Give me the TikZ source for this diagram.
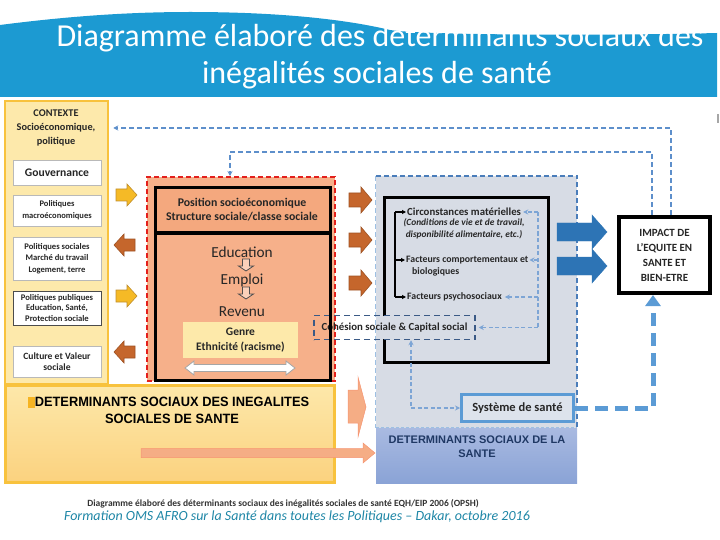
\documentclass[tikz,border=0pt]{standalone}
\usepackage{fontspec}
\usepackage{graphicx}
\setmainfont{Carlito}
\newfontfamily\arialf{Liberation Sans}
\usetikzlibrary{arrows.meta}
\definecolor{banner}{HTML}{1C9AD2}
\definecolor{ybord}{HTML}{F8C23D}
\definecolor{ytop}{HTML}{FDE8AA}
\definecolor{ybot}{HTML}{FBD27F}
\definecolor{ctxfill}{HTML}{FDE9AB}
\definecolor{yarr}{HTML}{F5BA26}
\definecolor{yedge}{HTML}{C08F2E}
\definecolor{brarr}{HTML}{C5662C}
\definecolor{salmon}{HTML}{F6B08A}
\definecolor{salmontwo}{HTML}{F4A87E}
\definecolor{redd}{HTML}{E3201C}
\definecolor{gbfill}{HTML}{D7DCE5}
\definecolor{bdash}{HTML}{4A7DBA}
\definecolor{lbdash}{HTML}{9DC0E3}
\definecolor{fbcol}{HTML}{5D8FCB}
\definecolor{bltop}{HTML}{A9BAE1}
\definecolor{blbot}{HTML}{8AA3D6}
\definecolor{navy}{HTML}{1F3864}
\definecolor{sysblue}{HTML}{5B9BD5}
\definecolor{sysfill}{HTML}{DDE3EC}
\definecolor{bluearr}{HTML}{2D74B5}
\definecolor{peach}{HTML}{F5AD85}
\definecolor{cohcol}{HTML}{3B5A86}
\definecolor{teal}{HTML}{1E86A6}
\definecolor{genre}{HTML}{FDE9AA}
\newcommand\fs[2]{\fontsize{#1}{#2}\selectfont}
% horizontal block arrow: style, xstart, xtip, yc, shaft half, head half, head length (signed)
\newcommand\blkarrow[7]{\draw[#1] (#2,{#4-#5}) -- ({#3-(#7)},{#4-#5}) -- ({#3-(#7)},{#4-#6}) -- (#3,#4) -- ({#3-(#7)},{#4+#6}) -- ({#3-(#7)},{#4+#5}) -- (#2,{#4+#5}) -- cycle;}
% vertical block arrow: style, ystart, ytip, xc, shaft half, head half, head length (signed)
\newcommand\vblkarrow[7]{\draw[#1] ({#4-#5},#2) -- ({#4-#5},{#3-(#7)}) -- ({#4-#6},{#3-(#7)}) -- (#4,#3) -- ({#4+#6},{#3-(#7)}) -- ({#4+#5},{#3-(#7)}) -- ({#4+#5},#2) -- cycle;}
\begin{document}
\begin{tikzpicture}[x=1pt,y=-1pt,
  titletext/.style={text=white, font=\fs{32}{34}, inner sep=0pt},
  ctxbox/.style={draw=gray!55, fill=white, line width=0.8pt, minimum width=88pt, inner sep=1pt, align=center, text=black!85},
  yarrowst/.style={fill=yarr, draw=yedge, line width=0.6pt},
  barrowst/.style={fill=brarr, draw=brarr!80!black, line width=0.6pt},
  hollowarr/.style={fill=salmon!60, draw=black!70, line width=0.8pt},
  bluearrst/.style={fill=bluearr, draw=bluearr},
  peachst/.style={fill=peach, draw=peach!85!red, line width=0.5pt},
  fbdash/.style={draw=fbcol, line width=1.5pt, dash pattern=on 5pt off 3pt},
  fbtwo/.style={draw=fbcol!80, line width=1.3pt, dash pattern=on 4pt off 2.5pt},
  tip/.style={-{Stealth[length=5pt,width=5pt]}},
  itemtxt/.style={font=\bfseries\fs{10.8}{12}, inner sep=1pt, text=black!85}
]
\useasboundingbox (0,0) rectangle (720,540);

% ---------- title banner ----------
\fill[banner] (0,25) .. controls (70,16) and (130,12) .. (190,12) .. controls (270,12) and (340,18) .. (390,30) .. controls (420,35) and (600,36) .. (717,33) -- (717,97) -- (0,97) -- cycle;
\node[titletext, anchor=base] (t1) at (380,47) {Diagramme élaboré des déterminants sociaux des};
\node[titletext, anchor=base] (t2) at (377,84) {inégalités sociales de santé};
\draw[gray!70, line width=1.5pt] (718,114) -- (718,123);

% ---------- bottom yellow box ----------
\node[draw=ybord, line width=3pt, top color=ytop, bottom color=ybot, minimum width=329pt, minimum height=97pt, inner sep=0pt] (ineg) at (169.5,433.5) {};
\fill[yarr!90!orange] (28,397) rectangle (35,408);
\node[font=\arialf\bfseries\fs{13.5}{17}, align=center, inner sep=0pt] (inegtxt) at (172,410) {\scalebox{0.95}[1]{DETERMINANTS SOCIAUX DES INEGALITES}\\\scalebox{0.95}[1]{SOCIALES DE SANTE}};

% ---------- left context column ----------
\node[draw=ybord, line width=2.5pt, fill=ctxfill, minimum width=103pt, minimum height=283pt, inner sep=0pt] (ctxcol) at (56.5,242.5) {};
\node[font=\bfseries\fs{10.3}{14}, align=center, text=black!85] (ctx) at (56,128) {CONTEXTE\\Socioéconomique,\\politique};
\node[ctxbox, minimum height=25pt, font=\bfseries\fs{11.6}{12}] (gouv) at (57,172.5) {Gouvernance};
\node[ctxbox, minimum height=31pt, font=\bfseries\fs{8.5}{12}] (macro) at (57,210.5) {Politiques\\macroéconomiques};
\node[ctxbox, minimum height=43pt, font=\bfseries\fs{8.6}{11.5}] (psoc) at (57,258.5) {Politiques sociales\\Marché du travail\\Logement, terre};
\node[ctxbox, draw=black!70, minimum height=34pt, font=\bfseries\fs{8.6}{10.5}] (ppub) at (57,308) {Politiques publiques\\Education, Santé,\\Protection sociale};
\node[ctxbox, minimum height=31pt, font=\bfseries\fs{9.6}{11.5}] (cult) at (57,361.5) {Culture et Valeur\\sociale};

% arrows between context and red box
\blkarrow{yarrowst}{116}{137}{195}{6}{11}{10}
\blkarrow{barrowst}{135}{114}{245}{6}{11}{-10}
\blkarrow{yarrowst}{116}{137}{296}{6}{11}{10}
\blkarrow{barrowst}{135}{114}{352}{6}{11}{-10}

% ---------- blue / grey region ----------
\node[fill=gbfill, minimum width=201pt, minimum height=252pt, inner sep=0pt] (sdsreg) at (476.5,302) {};
\draw[draw=bdash, line width=1.5pt, dash pattern=on 5pt off 3pt] (sdsreg.north west) -- (sdsreg.north east) -- (sdsreg.south east);
\draw[draw=lbdash, line width=1.2pt, dash pattern=on 5pt off 3pt] (sdsreg.north west) -- (sdsreg.south west);
\node[top color=bltop, bottom color=blbot, minimum width=201pt, minimum height=55pt, inner sep=0pt] (sds) at (476.5,455.5) {};
\draw[draw=lbdash, line width=1pt, dash pattern=on 3pt off 2pt] (sds.north west) -- (sds.north east);
\node[font=\arialf\bfseries\fs{11}{14}, text=navy, align=center, inner sep=0pt] (sdstxt) at (477,447) {DETERMINANTS SOCIAUX DE LA\\SANTE};

% inner black box (intermediate determinants)
\draw[line width=3pt] (384,316) -- (384,198) -- (548,198) -- (548,362) -- (384,362) -- (384,339);
\node[itemtxt, anchor=west] (circ) at (406,212) {Circonstances matérielles};
\node[font=\bfseries\itshape\fs{9.4}{12}, align=center, inner sep=0pt, text=black!85] (cond) at (464,229) {(Conditions de vie et de travail,\\disponibilité alimentaire, etc.)};
\node[itemtxt, font=\bfseries\fs{9.8}{12}, anchor=west] (comp) at (405,260) {Facteurs comportementaux et};
\node[itemtxt, font=\bfseries\fs{9.8}{12}, anchor=west] (comptwo) at (411,272) {biologiques};
\node[itemtxt, font=\bfseries\fs{9.8}{12}, anchor=west] (psy) at (406,297) {Facteurs psychosociaux};
\coordinate (bk) at (395,0);
\draw[line width=1.2pt] (circ.west -| bk) -- (psy.west -| bk);
\foreach \n in {circ,comp,psy}{\draw[line width=1.2pt, -{Triangle[length=4pt,width=4pt]}] (\n.west -| bk) -- (\n.west);}

% ---------- red box ----------
\node[draw=redd, line width=2pt, dash pattern=on 5pt off 3pt, fill=salmon, minimum width=188pt, minimum height=204pt, inner sep=0pt] (redbox) at (241,279) {};
\fill[salmontwo] (155,188) rectangle (330,233);
\node[font=\bfseries\fs{11.8}{14}, align=center, text=black!85] (pos) at (242,210) {Position socioéconomique\\Structure sociale/classe sociale};
\node[font=\fs{15.3}{15}, text=black!85, inner sep=0pt] (edu) at (242,252) {Education};
\node[font=\fs{15.3}{15}, text=black!85, inner sep=0pt] (emp) at (242,280) {Emploi};
\node[font=\fs{15.3}{15}, text=black!85, inner sep=0pt] (rev) at (242,312) {Revenu};
\vblkarrow{hollowarr}{259}{271}{246}{3.5}{7.5}{5}
\vblkarrow{hollowarr}{287}{299}{246}{3.5}{7.5}{5}
\node[fill=genre, minimum width=115pt, minimum height=36pt, font=\bfseries\fs{11.5}{15}, align=center, text=black!85] (genre) at (240.5,340) {Genre\\Ethnicité (racisme)};
\draw[gray!70, fill=white, line width=0.8pt] (185,368) -- (194,361) -- (194,364.5) -- (286,364.5) -- (286,361) -- (295,368) -- (286,375) -- (286,371.5) -- (194,371.5) -- (194,375) -- cycle;

% cohesion box
\node[draw=cohcol, line width=1.5pt, dash pattern=on 6pt off 4pt, minimum width=161pt, minimum height=24pt, inner sep=0pt, font=\bfseries\fs{10.8}{12}, text=black!85] (coh) at (394.5,327.5) {Cohésion sociale \& Capital social};

% black border of red box
\draw[line width=3pt] (155,188) rectangle (330,380);
\draw[line width=3pt] (155,233) -- (330,233);

% arrows between red and blue
\blkarrow{barrowst}{349}{372}{200}{7}{13}{11}
\blkarrow{barrowst}{349}{372}{240}{7}{13}{11}
\blkarrow{barrowst}{349}{372}{283}{7}{13}{11}
\draw[peachst] (348,390) -- (358,390) -- (358,377) -- (366,407) -- (358,437) -- (358,423) -- (348,423) -- cycle;
\blkarrow{peachst}{141}{375}{453}{4.5}{10}{12}

% ---------- impact & health system ----------
\blkarrow{bluearrst}{557}{607}{232}{9}{17}{15}
\blkarrow{bluearrst}{557}{607}{266}{9}{17}{15}
\node[draw, line width=4pt, fill=white, minimum width=91pt, minimum height=76pt, font=\bfseries\fs{11}{15}, align=center, text=black!85] (impact) at (664.5,255) {IMPACT DE\\L’EQUITE EN\\SANTE ET\\BIEN-ETRE};
\node[draw=sysblue, line width=3pt, fill=sysfill, minimum width=112pt, minimum height=27pt, font=\bfseries\fs{12.5}{13}, text=black!85] (sys) at (517.5,408) {Système de santé};

% ---------- connectors ----------
\coordinate (rk) at (538,0);
\draw[fbtwo] (circ.east -| rk) -- (coh.east -| rk);
\draw[fbtwo, tip] (circ.east -| rk) -- ([xshift=1pt]circ.east);
\draw[fbtwo, tip] (comp.east -| rk) -- (comp.east);
\draw[fbtwo, tip] (psy.east -| rk) -- ([xshift=2pt]psy.east);
\draw[fbtwo, tip] (coh.east -| rk) -- ([xshift=3pt]coh.east);
\draw[fbtwo, {Stealth[length=5pt,width=5pt]}-{Stealth[length=5pt,width=5pt]}] ([xshift=16.5pt]coh.south) |- (sys.west);
\draw[draw=sysblue, line width=5pt, dash pattern=on 13pt off 7pt, -{Triangle[length=11pt,width=15pt]}] (sys.east) -| ([xshift=-11.5pt]impact.south);

\coordinate (o1) at (671,128);
\draw[fbdash, tip] (impact.north -| o1) -- (o1) -- ([xshift=4pt]o1 -| ctxcol.east);
\coordinate (i1) at (652,152);
\coordinate (i2) at (230,152);
\draw[fbdash, tip] (impact.north -| i1) -- (i1) -- (i2) -- (i2 |- redbox.north);

% ---------- captions ----------
\node[font=\bfseries\fs{9.5}{10}, text=black!80, inner sep=0pt] (cap) at (283,504) {Diagramme élaboré des déterminants sociaux des inégalités sociales de santé EQH/EIP 2006 (OPSH)};
\node[font=\itshape\fs{14}{15}, text=teal, inner sep=0pt] (form) at (297,517) {Formation OMS AFRO sur la Santé dans toutes les Politiques – Dakar, octobre 2016};
\end{tikzpicture}
\end{document}
